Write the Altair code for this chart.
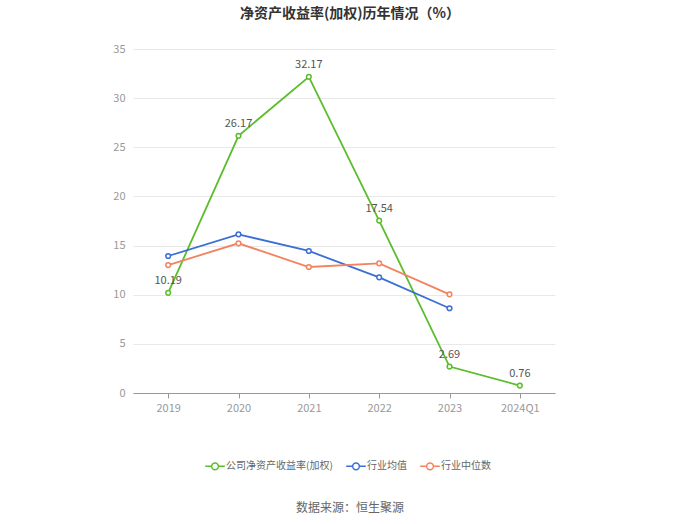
import altair as alt
import pandas as pd

years = ["2019", "2020", "2021", "2022", "2023", "2024Q1"]
company = [10.19, 26.17, 32.17, 17.54, 2.69, 0.76]
ind_mean = [13.94, 16.14, 14.45, 11.77, 8.62, None]
ind_median = [13.02, 15.23, 12.82, 13.19, 10.04, None]
series_names = ["公司净资产收益率(加权)", "行业均值", "行业中位数"]
colors = ["#5bbd2b", "#3b6fd6", "#f2835e"]

rows = []
for name, vals in zip(series_names, [company, ind_mean, ind_median]):
    for y, v in zip(years, vals):
        if v is not None:
            rows.append({"year": y, "value": v, "series": name})
df = pd.DataFrame(rows)

FONT = "Noto Sans CJK SC"

x = alt.X("year:N", sort=years, title=None,
          scale=alt.Scale(type="point", padding=0.5),
          axis=alt.Axis(labelAngle=0, labelColor="#999999", labelFontSize=11,
                        domainColor="#999999", tickColor="#999999", tickSize=5,
                        labelPadding=4, grid=False, labelFont=FONT))
y = alt.Y("value:Q", title=None,
          scale=alt.Scale(domain=[0, 35], nice=False),
          axis=alt.Axis(values=[0, 5, 10, 15, 20, 25, 30, 35], labelColor="#999999",
                        labelFontSize=11, domain=False, ticks=False, gridColor="#e8e8e8",
                        labelPadding=8, labelFont=FONT))
color = alt.Color("series:N", scale=alt.Scale(domain=series_names, range=colors),
                  legend=alt.Legend(title=None, orient="none", direction="horizontal",
                                    legendX=75, legendY=410,
                                    symbolType="M-1.6,0L-0.55,0M0.55,0L1.6,0M-0.55,0A0.55,0.55 0 1,1 0.55,0A0.55,0.55 0 1,1 -0.55,0",
                                    symbolSize=150, symbolStrokeWidth=1.5,
                                    symbolFillColor="white", labelFontSize=10,
                                    labelColor="#666666", labelFont=FONT,
                                    columnPadding=10, symbolOffset=0))

base = alt.Chart(df)
lines = base.mark_line(strokeWidth=1.8).encode(x=x, y=y, color=color)
points = base.mark_point(filled=False, fill="white", size=22, strokeWidth=1.5, opacity=1).encode(
    x=x, y=y, color=alt.Color("series:N", scale=alt.Scale(domain=series_names, range=colors), legend=None))
labels = base.transform_filter(alt.datum.series == series_names[0]).mark_text(
    dy=-12, fontSize=11, color="#555555", font=FONT).encode(
    x=x, y=y, text=alt.Text("value:Q", format=".2f"))

src = alt.Chart(pd.DataFrame({"t": ["数据来源：恒生聚源"]})).mark_text(
    fontSize=12, color="#666666", font=FONT).encode(
    x=alt.value(217), y=alt.value(459), text="t:N")

chart = alt.layer(lines, points, labels, src).properties(
    width=422, height=344,
    title=alt.TitleParams("净资产收益率(加权)历年情况（%）", fontSize=14, fontWeight="bold",
                          color="#333333", font=FONT, anchor="middle", dx=6, offset=22),
    autosize=alt.AutoSizeParams(type="none"),
    padding={"left": 133, "top": 49, "right": 145, "bottom": 131},
).configure(background="white").configure_view(stroke=None)

chart.save("out.html", embed_options={"renderer": "svg", "actions": False})
